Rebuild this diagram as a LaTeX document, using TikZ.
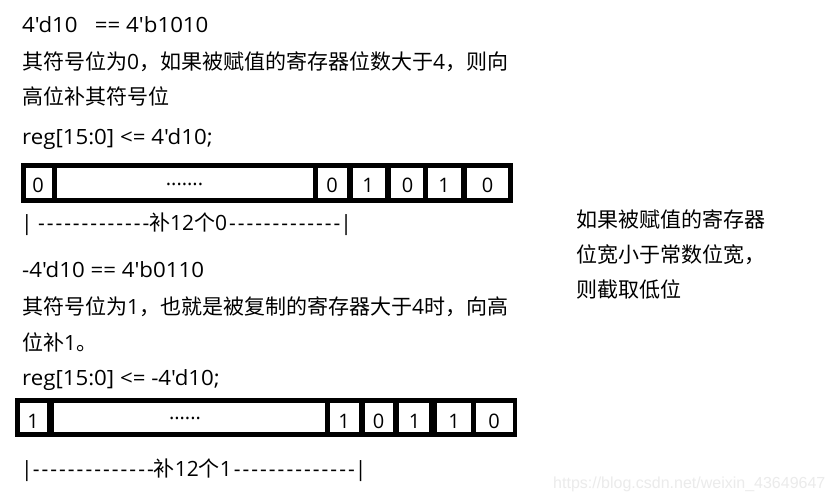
\documentclass[tikz,border=0pt]{standalone}
\usepackage{fontspec}
\setmainfont{Noto Sans CJK SC}[Ligatures=TeXOff]
\newfontfamily\lat{Open Sans}[Ligatures=TeXOff]
\newfontfamily\latw{Open Sans}[Ligatures=TeXOff, FakeStretch=1.06]
\newfontfamily\wmfont{Liberation Sans}[Ligatures=TeXOff]
\newcommand{\la}[1]{{\lat #1}}
\newcommand{\lw}[1]{{\latw #1}}
\newcommand{\dashrun}[1]{\makebox[#1][s]{\lat -\hfill-\hfill-\hfill-\hfill-\hfill-\hfill-\hfill-\hfill-\hfill-\hfill-\hfill-\hfill-}}
\newcommand{\dashrunb}[1]{\makebox[#1][s]{\lat -\hfill-\hfill-\hfill-\hfill-\hfill-\hfill-\hfill-\hfill-\hfill-\hfill-\hfill-\hfill-\hfill-}}
\begin{document}
\begin{tikzpicture}[x=1pt,y=-1pt,
  txt/.style={anchor=base west, inner sep=0pt, font=\fontsize{21}{21}\selectfont},
  bit/.style={anchor=base, inner sep=0pt, font=\lat\fontsize{20}{20}\selectfont},
  dots/.style={anchor=base, inner sep=0pt, font=\lat\fontsize{20}{20}\selectfont},
  frame/.style={fill=black},
  cellbox/.style={fill=white}]
\useasboundingbox[fill=white] (0,0) rectangle (834,502);

% ---- top texts
\node[txt] (t1) at (22,33) {\lw{4'd10\ \ \ == 4'b1010}};
\node[txt] (t2) at (22,69.5) {其符号位为\la{0}，如果被赋值的寄存器位数大于\la{4}，则向};
\node[txt] (t3) at (22,105) {高位补其符号位};
\node[txt] (t4) at (22,145) {\lw{reg[15:0] <= 4'd10;}};

% ---- box 1
\fill[frame] (21,163) rectangle (513,203);
\foreach \a/\b in {26/52,57/313,318/347,353/385,391/423,428/461,467/508}
  \fill[cellbox] (\a,168) rectangle (\b,198);
\node[bit] (a1) at (38,193) {0};
\node[dots] (ad) at (184.5,185.5) {.......};
\node[bit] (a2) at (332,193) {0};
\node[bit] (a3) at (368,193) {1};
\node[bit] (a4) at (407.5,193) {0};
\node[bit] (a5) at (444,193) {1};
\node[bit] (a6) at (487.5,193) {0};

\node[txt] (l1) at (21,231) {\la{|\ }\dashrun{111pt}补\la{12}个\la{0}\hspace{2pt}\dashrun{111pt}\la{|}};

% ---- second part
\node[txt] (u1) at (22,277) {\lw{-4'd10 == 4'b0110}};
\node[txt] (u2) at (22,314) {其符号位为\la{1}，也就是被复制的寄存器大于\la{4}时，向高};
\node[txt] (u3) at (22,350) {位补\la{1}。};
\node[txt] (u4) at (22,385) {\lw{reg[15:0] <= -4'd10;}};

% ---- box 2
\fill[frame] (15,398) rectangle (517,437);
\foreach \a/\b in {20/47,54/325,330/358.5,364.5/393,399/429,437/470.5,476/512.5}
  \fill[cellbox] (\a,403) rectangle (\b,432);
\node[bit] (b1) at (33,428) {1};
\node[dots] (bd) at (185,419.5) {......};
\node[bit] (b2) at (344,428) {1};
\node[bit] (b3) at (378.5,428) {0};
\node[bit] (b4) at (414.5,428) {1};
\node[bit] (b5) at (454,428) {1};
\node[bit] (b6) at (494,428) {0};

\node[txt] (l2) at (21,476) {\la{|}\dashrunb{121pt}补\la{12}个\la{1}\hspace{2pt}\dashrunb{121pt}\la{|}};

% ---- right note
\node[txt] (r1) at (576,227.5) {如果被赋值的寄存器};
\node[txt] (r2) at (576,262.5) {位宽小于常数位宽，};
\node[txt] (r3) at (576,297.5) {则截取低位};

% ---- watermark
\node[anchor=base west, inner sep=0pt, text=black!8, font=\wmfont\fontsize{16}{16}\selectfont] (wm) at (553,488) {https://blog.csdn.net/weixin\_43649647};
\end{tikzpicture}
\end{document}
